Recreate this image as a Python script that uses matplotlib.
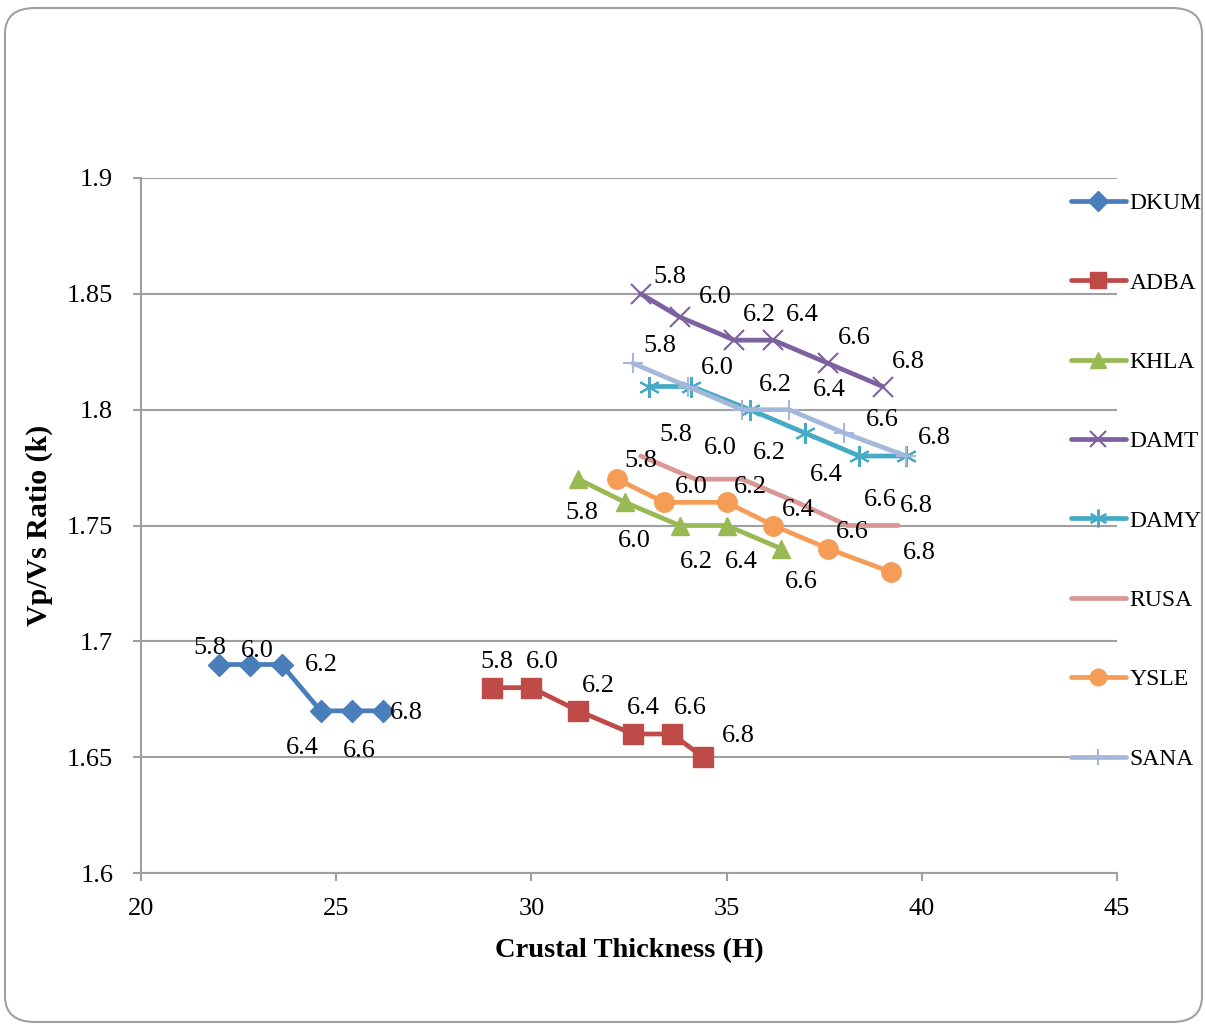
import matplotlib.pyplot as plt
from matplotlib.patches import FancyBboxPatch
from matplotlib.ticker import FuncFormatter, MultipleLocator

plt.rcParams['font.family'] = ['Liberation Serif', 'DejaVu Serif']

# data: crustal thickness H and Vp/Vs ratio k per station
vp_labels = ['5.8', '6.0', '6.2', '6.4', '6.6', '6.8']

dkum_h = [22.0, 22.8, 23.6, 24.6, 25.4, 26.2]
dkum_k = [1.69, 1.69, 1.69, 1.67, 1.67, 1.67]

adba_h = [29.0, 30.0, 31.2, 32.6, 33.6, 34.4]
adba_k = [1.68, 1.68, 1.67, 1.66, 1.66, 1.65]

khla_h = [31.2, 32.4, 33.8, 35.0, 36.4]
khla_k = [1.77, 1.76, 1.75, 1.75, 1.74]

damt_h = [32.8, 33.8, 35.2, 36.2, 37.6, 39.0]
damt_k = [1.85, 1.84, 1.83, 1.83, 1.82, 1.81]

damy_h = [33.0, 34.1, 35.6, 37.0, 38.4, 39.6]
damy_k = [1.81, 1.81, 1.80, 1.79, 1.78, 1.78]

rusa_h = [32.8, 34.2, 35.4, 36.8, 38.1, 39.4]
rusa_k = [1.78, 1.77, 1.77, 1.76, 1.75, 1.75]

ysle_h = [32.2, 33.4, 35.0, 36.2, 37.6, 39.2]
ysle_k = [1.77, 1.76, 1.76, 1.75, 1.74, 1.73]

sana_h = [32.6, 34.0, 35.4, 36.6, 38.0, 39.6]
sana_k = [1.82, 1.81, 1.80, 1.80, 1.79, 1.78]

# label offsets in pixels (right, down) from each point
lbl_off = {
    'DKUM': [(-9, -17), (7, -14), (40, 0), (-18, 37), (7, 40), (23, 2)],
    'ADBA': [(5, -26), (11, -26), (20, -25), (10, -26), (18, -26), (35, -21)],
    'KHLA': [(4, 34), (9, 39), (17, 36), (15, 36), (20, 33)],
    'DAMT': [(29, -17), (36, -20), (25, -25), (29, -25), (26, -25), (26, -24)],
    'DAMY': None,
    'RUSA': [(35, -21), (25, -31), (27, -26), (29, -27), (33, -26), (18, -19)],
    'YSLE': [(24, -18), (27, -15), (24, -15), (25, -16), (24, -17), (29, -19)],
    'SANA': [(27, -17), (30, -19), (33, -25), (40, -20), (39, -13), (28, -18)],
}

series = [
    ('DKUM', dkum_h, dkum_k, '#4A7EBB', 'D', 11.5, 1.0),
    ('ADBA', adba_h, adba_k, '#BE4B48', 's', 14, 1.0),
    ('KHLA', khla_h, khla_k, '#98B954', '^', 13.5, 1.0),
    ('DAMT', damt_h, damt_k, '#7D60A0', 'x', 14, 1.5),
    ('DAMY', damy_h, damy_k, '#46AAC5', (6, 2, 0), 15, 1.5),
    ('RUSA', rusa_h, rusa_k, '#D99795', None, 0, 1.0),
    ('YSLE', ysle_h, ysle_k, '#F59D56', 'o', 14, 1.0),
    ('SANA', sana_h, sana_k, '#A5B8DB', '+', 14, 1.5),
]

fig = plt.figure(figsize=(12.05, 10.25), dpi=100)
frame = FancyBboxPatch((5 / 1205, 3 / 1025), 1197 / 1205, 1014 / 1025,
                       boxstyle='round,pad=0,rounding_size=0.025',
                       transform=fig.transFigure, facecolor='none',
                       edgecolor='#A0A0A0', linewidth=1.5, zorder=-5)
fig.patches.append(frame)
ax = fig.add_axes([141 / 1205, 1 - 873 / 1025, 976 / 1205, 695 / 1025])
ax.set_facecolor('none')

for name, h, k, col, mk, ms, mew in series:
    ax.plot(h, k, color=col, linewidth=3.4, marker=mk, markersize=ms,
            markerfacecolor=col, markeredgecolor=col, markeredgewidth=mew,
            label=name, solid_capstyle='round', zorder=3)
    offs = lbl_off[name]
    if offs is None:
        continue
    for i in range(len(h)):
        dx, dy = offs[i]
        ax.annotate(vp_labels[i], (h[i], k[i]), xytext=(dx, -dy),
                    textcoords='offset pixels', ha='center', va='center',
                    fontsize=19, color='black', zorder=4)

ax.set_xlim(20, 45)
ax.set_ylim(1.6, 1.9)
ax.xaxis.set_major_locator(MultipleLocator(5))
ax.yaxis.set_major_locator(MultipleLocator(0.05))
ax.yaxis.set_major_formatter(FuncFormatter(lambda v, p: '{:g}'.format(round(v, 2))))
ax.grid(axis='y', color='#A0A0A0', linewidth=1.5, zorder=0)
ax.set_axisbelow(True)
for s in ['top', 'right']:
    ax.spines[s].set_visible(False)
for s in ['left', 'bottom']:
    ax.spines[s].set_color('#A0A0A0')
    ax.spines[s].set_linewidth(1.5)
ax.tick_params(direction='out', length=6, width=1.5, color='#A0A0A0',
               labelsize=19)
ax.tick_params(axis='x', pad=12)
ax.tick_params(axis='y', pad=14)

ax.set_xlabel('Crustal Thickness (H)', fontsize=20.5, fontweight='bold', labelpad=13)
ax.set_ylabel('Vp/Vs Ratio (k)', fontsize=21.5, fontweight='bold', labelpad=10)

ax.legend(loc='upper left', bbox_to_anchor=(1066 / 1205, 1 - 188 / 1025),
          bbox_transform=fig.transFigure, frameon=False, fontsize=17,
          handlelength=2.35, handletextpad=0.15, labelspacing=2.45,
          borderaxespad=0, borderpad=0.2, markerscale=0.85)

plt.savefig('out.png', dpi=100)
